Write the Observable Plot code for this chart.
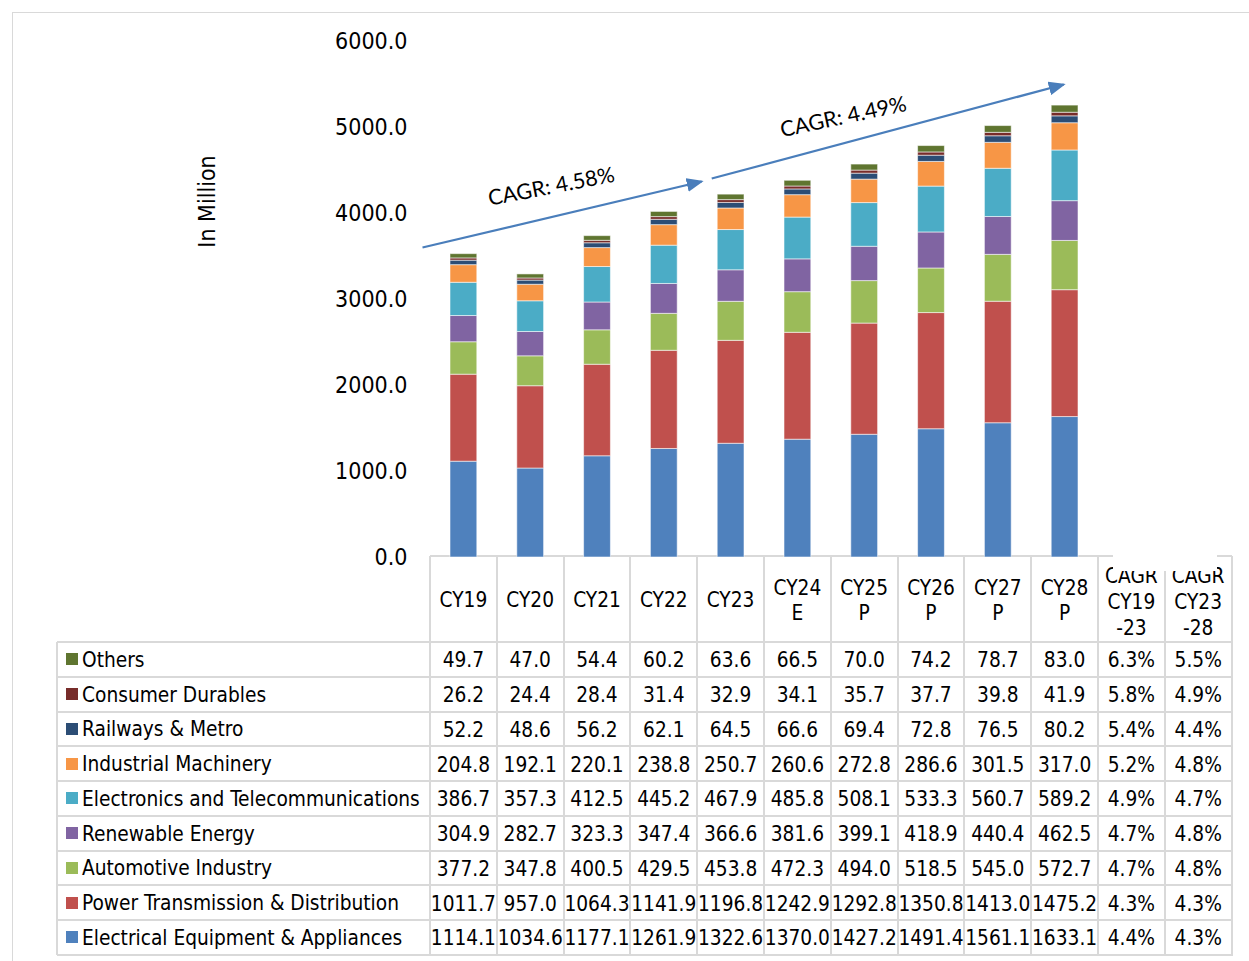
<!DOCTYPE html>
<html>
<head>
<meta charset="utf-8">
<script src="https://cdn.jsdelivr.net/npm/d3@7"></script>
<script src="https://cdn.jsdelivr.net/npm/@observablehq/plot@0.6"></script>
<style>
html,body{margin:0;padding:0;background:#fff;}
#wrap{position:relative;width:1249px;height:961px;overflow:hidden;font-family:"DejaVu Sans",sans-serif;font-stretch:condensed;color:#000;}
.abs{position:absolute;box-sizing:border-box;}
.cell{display:flex;align-items:center;justify-content:center;text-align:center;white-space:pre-line;font-size:20.7px;}
</style>
</head>
<body>
<div id="wrap"></div>
<script>
// ---------- data ----------
const years = [2019, 2020, 2021, 2022, 2023, 2024, 2025, 2026, 2027, 2028];
const yearLabels = ["CY19", "CY20", "CY21", "CY22", "CY23", "CY24\nE", "CY25\nP", "CY26\nP", "CY27\nP", "CY28\nP"];
const cagrHeaders = ["CAGR\nCY19\n-23", "CAGR\nCY23\n-28"];
const yTicks = [0, 1000, 2000, 3000, 4000, 5000, 6000];

// segments listed bottom of stack -> top of stack
const segments = [
  "Electrical Equipment & Appliances",
  "Power Transmission & Distribution",
  "Automotive Industry",
  "Renewable Energy",
  "Electronics and Telecommunications",
  "Industrial Machinery",
  "Railways & Metro",
  "Consumer Durables",
  "Others"
];
const segmentColors = ["#4F81BD", "#C0504D", "#9BBB59", "#8064A2", "#4BACC6", "#F79646", "#2C4D75", "#772C2A", "#5F7530"];

const electrical  = [1114.1, 1034.6, 1177.1, 1261.9, 1322.6, 1370.0, 1427.2, 1491.4, 1561.1, 1633.1];
const power       = [1011.7,  957.0, 1064.3, 1141.9, 1196.8, 1242.9, 1292.8, 1350.8, 1413.0, 1475.2];
const automotive  = [377.2, 347.8, 400.5, 429.5, 453.8, 472.3, 494.0, 518.5, 545.0, 572.7];
const renewable   = [304.9, 282.7, 323.3, 347.4, 366.6, 381.6, 399.1, 418.9, 440.4, 462.5];
const electronics = [386.7, 357.3, 412.5, 445.2, 467.9, 485.8, 508.1, 533.3, 560.7, 589.2];
const industrial  = [204.8, 192.1, 220.1, 238.8, 250.7, 260.6, 272.8, 286.6, 301.5, 317.0];
const railways    = [52.2, 48.6, 56.2, 62.1, 64.5, 66.6, 69.4, 72.8, 76.5, 80.2];
const consumer    = [26.2, 24.4, 28.4, 31.4, 32.9, 34.1, 35.7, 37.7, 39.8, 41.9];
const others      = [49.7, 47.0, 54.4, 60.2, 63.6, 66.5, 70.0, 74.2, 78.7, 83.0];
const seriesValues = [electrical, power, automotive, renewable, electronics, industrial, railways, consumer, others];

// CAGR columns, same order as segments
const cagr1923 = ["4.4%", "4.3%", "4.7%", "4.7%", "4.9%", "5.2%", "5.4%", "5.8%", "6.3%"];
const cagr2328 = ["4.3%", "4.3%", "4.8%", "4.8%", "4.7%", "4.8%", "4.4%", "4.9%", "5.5%"];

// CAGR annotation arrows (data coordinates: year position, value)
const cagrArrows = [
  {label: "CAGR: 4.58%", x1: 2018.88, y1: 3605, x2: 2023.06, y2: 4372, tx: 2020.81, ty: 4310, angle: -11},
  {label: "CAGR: 4.49%", x1: 2023.21, y1: 4407, x2: 2028.48, y2: 5500, tx: 2025.18, ty: 5120, angle: -12}
];
const yAxisLabel = ["In Million"];

// ---------- build ----------
const rows = segments.flatMap((s, k) => years.map((yr, i) => ({segment: s, year: yr, value: seriesValues[k][i]})));

const FONT = '"DejaVu Sans", sans-serif';
const chart = Plot.plot({
  width: 1249,
  height: 575,
  marginLeft: 430,
  marginRight: 151,
  marginTop: 41,
  marginBottom: 18,
  style: {fontFamily: FONT, fontStretch: "condensed", fontSize: "23px", color: "#000", background: "transparent", overflow: "visible"},
  x: {type: "linear", domain: [2019, 2029], axis: null},
  y: {domain: [0, 6000], ticks: yTicks, tickSize: 0, tickPadding: 23, tickFormat: d => d.toFixed(1), label: null},
  color: {domain: segments, range: segmentColors},
  marks: [
    Plot.rectY(rows, Plot.stackY({
      x: "year", x1: "year", x2: d => d.year + 1, y: "value",
      fill: "segment", order: segments,
      insetLeft: 20, insetRight: 20,
      stroke: "#ffffff", strokeWidth: 1, strokeOpacity: 0.55
    })),
    Plot.link(cagrArrows, {x1: "x1", y1: "y1", x2: "x2", y2: "y2", stroke: "#4A7EBB", strokeWidth: 2.2}),
    Plot.text(cagrArrows, {x: "tx", y: "ty", text: "label", rotate: "angle", fontFamily: "Lato", fontSize: 21.5, fill: "#000", textAnchor: "middle", lineAnchor: "middle"}),
    Plot.text(yAxisLabel, {text: d => d, frameAnchor: "top-left", dx: -222.5, dy: 160, rotate: -90, textAnchor: "middle", lineAnchor: "middle", fontSize: 23, fill: "#000"})
  ]
});

// filled arrowheads for the CAGR links
{
  const ns = "http://www.w3.org/2000/svg";
  const defs = document.createElementNS(ns, "defs");
  const marker = document.createElementNS(ns, "marker");
  marker.setAttribute("id", "cagrHead");
  marker.setAttribute("viewBox", "0 0 17 14");
  marker.setAttribute("markerWidth", "17");
  marker.setAttribute("markerHeight", "14");
  marker.setAttribute("markerUnits", "userSpaceOnUse");
  marker.setAttribute("refX", "15");
  marker.setAttribute("refY", "7");
  marker.setAttribute("orient", "auto");
  const p = document.createElementNS(ns, "path");
  p.setAttribute("d", "M0,0L17,7L0,14Z");
  p.setAttribute("fill", "#4A7EBB");
  marker.appendChild(p);
  defs.appendChild(marker);
  chart.insertBefore(defs, chart.firstChild);
  chart.querySelectorAll('g[aria-label="link"] path').forEach(el => el.setAttribute("marker-end", "url(#cagrHead)"));
}

const wrap = document.getElementById("wrap");
const div = (cls, css, text) => {
  const d = document.createElement("div");
  d.className = cls;
  Object.assign(d.style, css);
  if (text != null) d.textContent = text;
  wrap.appendChild(d);
  return d;
};

// outer frame
div("abs", {left: "12px", top: "12px", width: "1400px", height: "1100px", borderLeft: "1.5px solid #d9d9d9", borderTop: "1.5px solid #d9d9d9"});

// ---------- data table aligned to the x scale ----------
const xs = chart.scale("x");
const colX = d3.range(0, years.length + cagrHeaders.length + 1).map(j => xs.apply(years[0] + j));
const labelLeft = 57;
const headTop = 556, headBottom = 642, rowH = 34.75;
const nRows = segments.length;
const tableBottom = headBottom + nRows * rowH;
const lineC = "#d9d9d9", lw = 2;

// grid lines
div("abs", {left: colX[0] + "px", top: (headTop - lw / 2) + "px", width: (colX[colX.length - 1] - colX[0]) + "px", height: lw + "px", background: lineC});
for (let r = 0; r <= nRows; r++) {
  const y = headBottom + r * rowH;
  div("abs", {left: labelLeft + "px", top: (y - lw / 2) + "px", width: (colX[colX.length - 1] - labelLeft + lw / 2) + "px", height: lw + "px", background: lineC});
}
div("abs", {left: (labelLeft - lw / 2) + "px", top: headBottom + "px", width: lw + "px", height: (tableBottom - headBottom) + "px", background: lineC});
colX.forEach(x => div("abs", {left: (x - lw / 2) + "px", top: headTop + "px", width: lw + "px", height: (tableBottom - headTop + lw / 2) + "px", background: lineC}));

// header cells
const headers = yearLabels.concat(cagrHeaders);
headers.forEach((h, j) => {
  const nLines = h.split("\n").length;
  div("abs cell", {left: colX[j] + "px", top: (headTop + (nLines === 3 ? 2.5 : 2)) + "px", width: (colX[j + 1] - colX[j]) + "px",
    height: (headBottom - headTop) + "px", lineHeight: (nLines === 3 ? 26 : 25.5) + "px"}, h);
});

// body rows: top row = last segment
for (let r = 0; r < nRows; r++) {
  const k = nRows - 1 - r;
  const top = headBottom + r * rowH;
  // swatch + label
  div("abs", {left: "66px", top: (top + rowH / 2 - 6) + "px", width: "12px", height: "12px", background: segmentColors[k]});
  div("abs cell", {left: "82px", top: (top + 0.5) + "px", height: rowH + "px", justifyContent: "flex-start", whiteSpace: "nowrap"}, segments[k]);
  const vals = seriesValues[k].map(v => v.toFixed(1)).concat([cagr1923[k], cagr2328[k]]);
  vals.forEach((v, j) => {
    div("abs cell", {left: (colX[j] - 10) + "px", top: (top + 1) + "px", width: (colX[j + 1] - colX[j] + 20) + "px", height: rowH + "px", whiteSpace: "nowrap"}, v);
  });
}

// chart layer above the table
const holder = div("abs", {left: "0px", top: "0px"});
holder.appendChild(chart);

// plot-area edge that hides the top of the CAGR headers
div("abs", {left: (colX[10] + 15) + "px", top: "540px", width: (colX[12] - colX[10] - 30) + "px", height: "31px", background: "#fff"});
</script>
</body>
</html>
